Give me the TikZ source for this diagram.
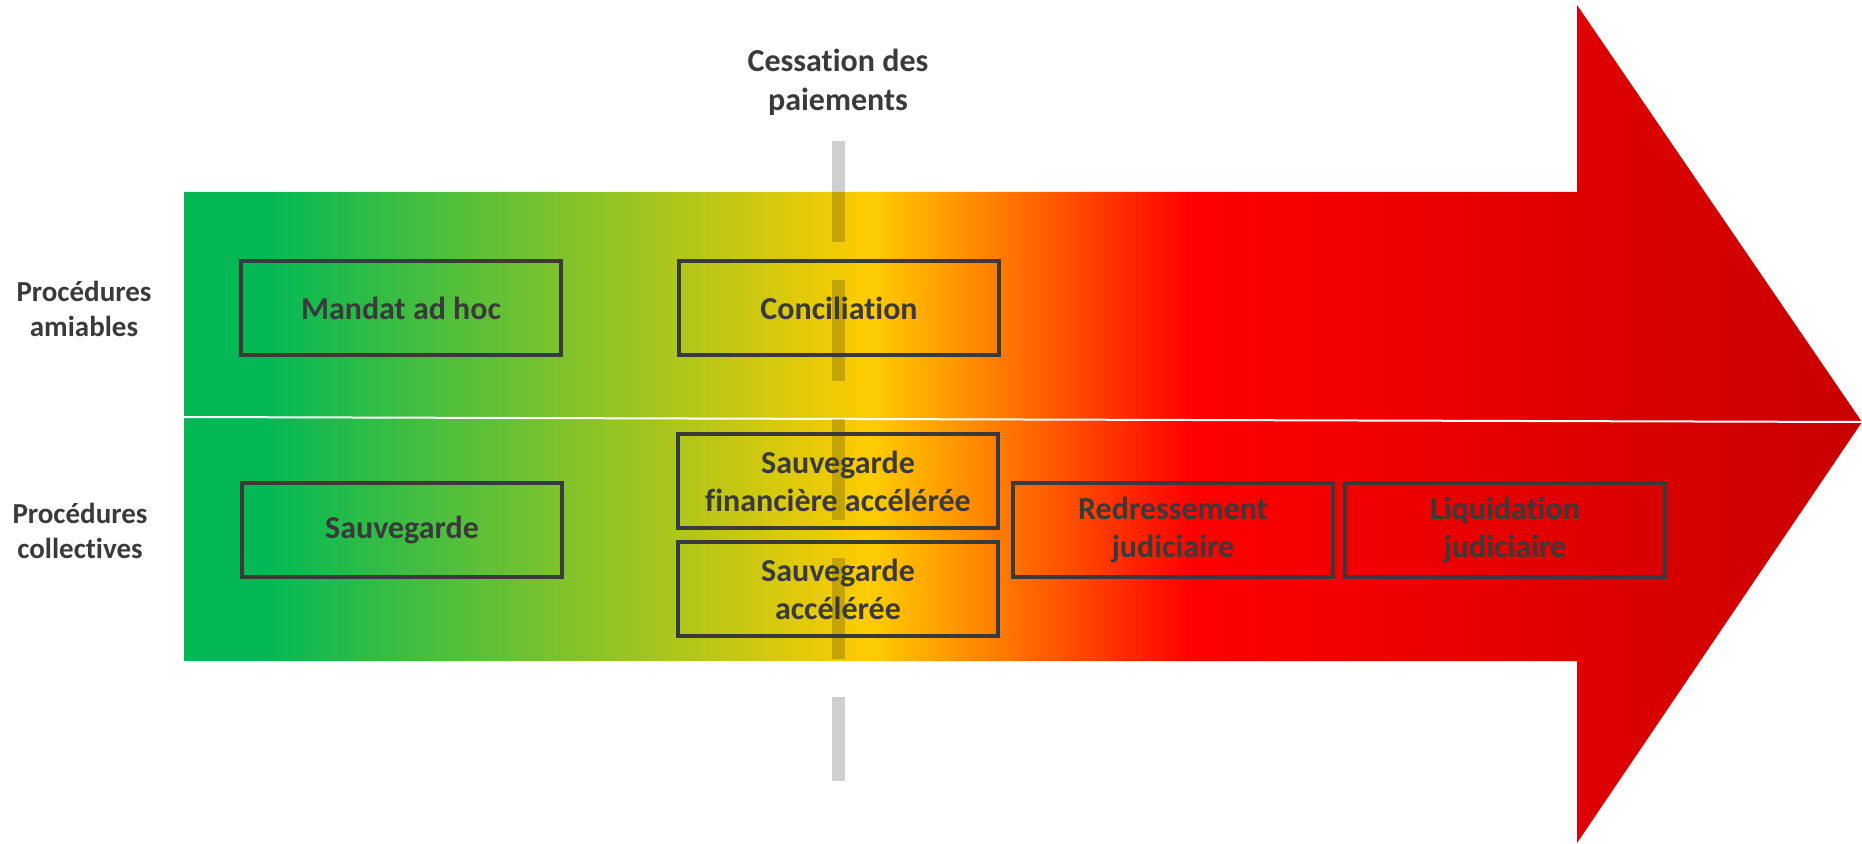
\documentclass[tikz,border=0pt]{standalone}
\usepackage{fontspec}
\setmainfont{Carlito}[Ligatures=NoCommon]
\usepackage{tikz}
\usetikzlibrary{positioning}
\definecolor{inkgray}{HTML}{3A3A3A}
\definecolor{procgreen}{HTML}{04B955}
\definecolor{procyellow}{HTML}{FFCC00}
\definecolor{procred}{HTML}{FF0000}
\definecolor{procdark}{HTML}{C80000}
\pgfdeclarehorizontalshading{riskgrad}{100bp}{color(0bp)=(procgreen); color(27.5bp)=(procgreen);
  color(45.5bp)=(procyellow); color(55bp)=(procred); color(75bp)=(procdark); color(100bp)=(procdark)}
\tikzset{
  proc/.style={draw=inkgray,line width=1.8pt,align=center,text=inkgray,
               minimum width=160pt,minimum height=47pt,inner sep=2pt,outer sep=0pt,
               font=\fontsize{16}{19}\selectfont\bfseries},
  side/.style={align=center,text=inkgray,font=\fontsize{14.5}{17.5}\selectfont\bfseries},
  headlbl/.style={align=center,text=inkgray,font=\fontsize{16}{19.5}\selectfont\bfseries},
  cutline/.style={line width=6.5pt,draw=black,draw opacity=0.19,dash pattern=on 50.5pt off 19pt}
}

\begin{document}
\begin{tikzpicture}[x=0.5pt,y=-0.5pt]
  \useasboundingbox (0,0) rectangle (1862,844);
  % big arrow with the gradient
  \shade[shading=riskgrad] (184,192) -- (1577,192) -- (1577,5) -- (1862,422)
    -- (1577,843) -- (1577,661) -- (184,661) -- cycle;
  \coordinate (splitl) at (184,417);
  \coordinate (splitr) at (1862,422);
  \draw[white,line width=1pt] (splitl) -- (splitr);
  % cessation des paiements
  \node[headlbl] (cess) at (838,82) {Cessation des\\paiements};
  \coordinate (cuttop) at (838,141);
  \coordinate (cutbot) at (838,781);
  \draw[cutline] (cuttop) -- (cutbot);
  % row labels
  \node[side] (amiab) at (84,309) {Procédures\\amiables};
  \node[side] (collec) at (80,531) {Procédures\\collectives};
  % procedures
  \node[proc] (mandat) at (401,308) {Mandat ad hoc};
  \node[proc] (concil) at (839,308) {Conciliation};
  \node[proc] (sauveg) at (402,530) {Sauvegarde};
  \node[proc] (sfa) at (838,481) {Sauvegarde\\financière accélérée};
  \node[proc,below=7pt of sfa] (sa) {Sauvegarde\\accélérée};
  \node[proc] (redress) at (1173,530) {Redressement\\judiciaire};
  \node[proc,right=6pt of redress] (liquid) {Liquidation\\judiciaire};
\end{tikzpicture}
\end{document}
